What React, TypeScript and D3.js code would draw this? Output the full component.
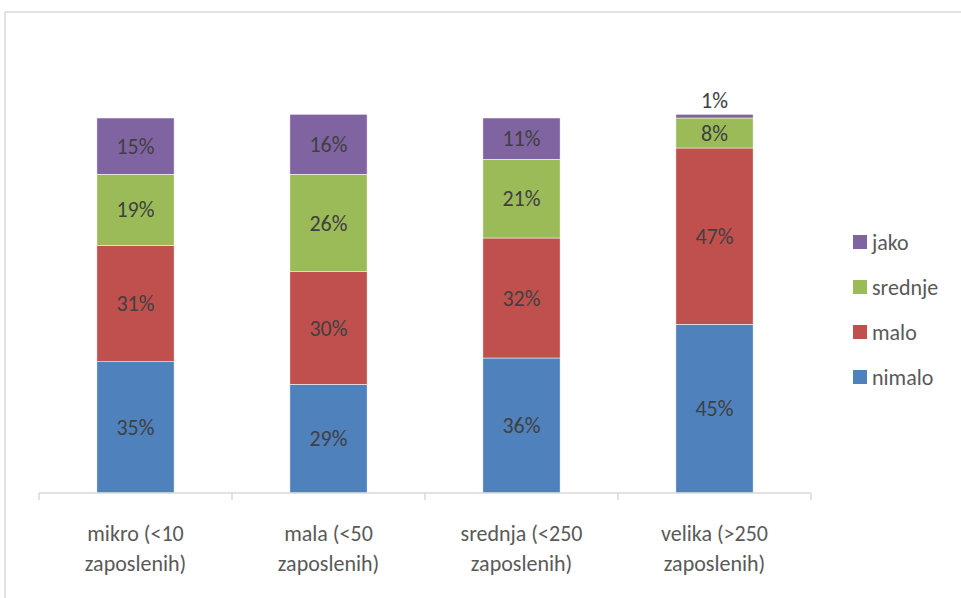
import React from "react";
import * as d3 from "d3";

const categories = ["mikro (<10 zaposlenih)", "mala (<50 zaposlenih)", "srednja (<250 zaposlenih)", "velika (>250 zaposlenih)"];
const categoryLines = [["mikro (<10", "zaposlenih)"], ["mala (<50", "zaposlenih)"], ["srednja (<250", "zaposlenih)"], ["velika (>250", "zaposlenih)"]];
const seriesNames = ["nimalo", "malo", "srednje", "jako"];
const nimalo = [35, 29, 36, 45];
const malo = [31, 30, 32, 47];
const srednje = [19, 26, 21, 8];
const jako = [15, 16, 11, 1];
const colors = ["#4F81BD", "#C0504D", "#9BBB59", "#8064A2"];

const W = 961, H = 598;
const FONT = "Carlito, Calibri, Lato, 'Open Sans', sans-serif";

export default function App() {
  const seriesValues = [nimalo, malo, srednje, jako];
  const x = d3.scaleBand<string>().domain(categories).range([39, 811]).paddingInner(0.6).paddingOuter(0.3);
  const y = d3.scaleLinear().domain([0, 100]).range([493, 118]);
  const rows = categories.map((c, i) => {
    const r: any = { cat: c };
    seriesNames.forEach((s, k) => (r[s] = seriesValues[k][i]));
    return r;
  });
  const stacked = d3.stack<any>().keys(seriesNames)(rows);
  const step = x.step();
  const ticks = d3.range(categories.length + 1).map((i) => 39 + i * step);

  return (
    <svg width={W} height={H} style={{ position: "absolute", left: 0, top: 0, fontFamily: FONT }}>
      <rect x={0} y={0} width={W} height={H} fill="#fff" />
      <rect x={5} y={12} width={W + 10} height={H + 10} fill="#fff" stroke="#d9d9d9" strokeWidth={1.5} />
      {stacked.map((s, k) => (
        <g key={s.key}>
          {s.map((d, i) => {
            const bx = x(categories[i])!;
            const y0 = y(d[0]), y1 = y(d[1]);
            const h = y0 - y1;
            const v = seriesValues[k][i];
            const small = h < 10;
            return (
              <g key={i}>
                <rect x={bx} y={y1} width={x.bandwidth()} height={h} fill={colors[k]} stroke="#fff" strokeWidth={0.5} />
                <text
                  x={bx + x.bandwidth() / 2}
                  y={small ? y1 - 14 : (y0 + y1) / 2}
                  textAnchor="middle"
                  dominantBaseline="central"
                  fontSize={22}
                  fill="#404040"
                >
                  {v}%
                </text>
              </g>
            );
          })}
        </g>
      ))}
      <line x1={39} x2={811} y1={493} y2={493} stroke="#d9d9d9" strokeWidth={1.5} />
      {ticks.map((t, i) => (
        <line key={i} x1={t} x2={t} y1={493} y2={500} stroke="#d9d9d9" strokeWidth={1.5} />
      ))}
      {categoryLines.map((lines, i) => (
        <text key={i} textAnchor="middle" fontSize={22} fill="#595959">
          {lines.map((l, j) => (
            <tspan key={j} x={x(categories[i])! + x.bandwidth() / 2} y={533 + j * 30} dominantBaseline="central">
              {l}
            </tspan>
          ))}
        </text>
      ))}
      {seriesNames
        .map((s, k) => ({ s, k }))
        .reverse()
        .map(({ s, k }, j) => (
          <g key={s} transform={`translate(853, ${242 + j * 45})`}>
            <rect x={0} y={-7} width={14} height={14} fill={colors[k]} />
            <text x={19} y={0} dominantBaseline="central" fontSize={22} fill="#595959">
              {s}
            </text>
          </g>
        ))}
    </svg>
  );
}
